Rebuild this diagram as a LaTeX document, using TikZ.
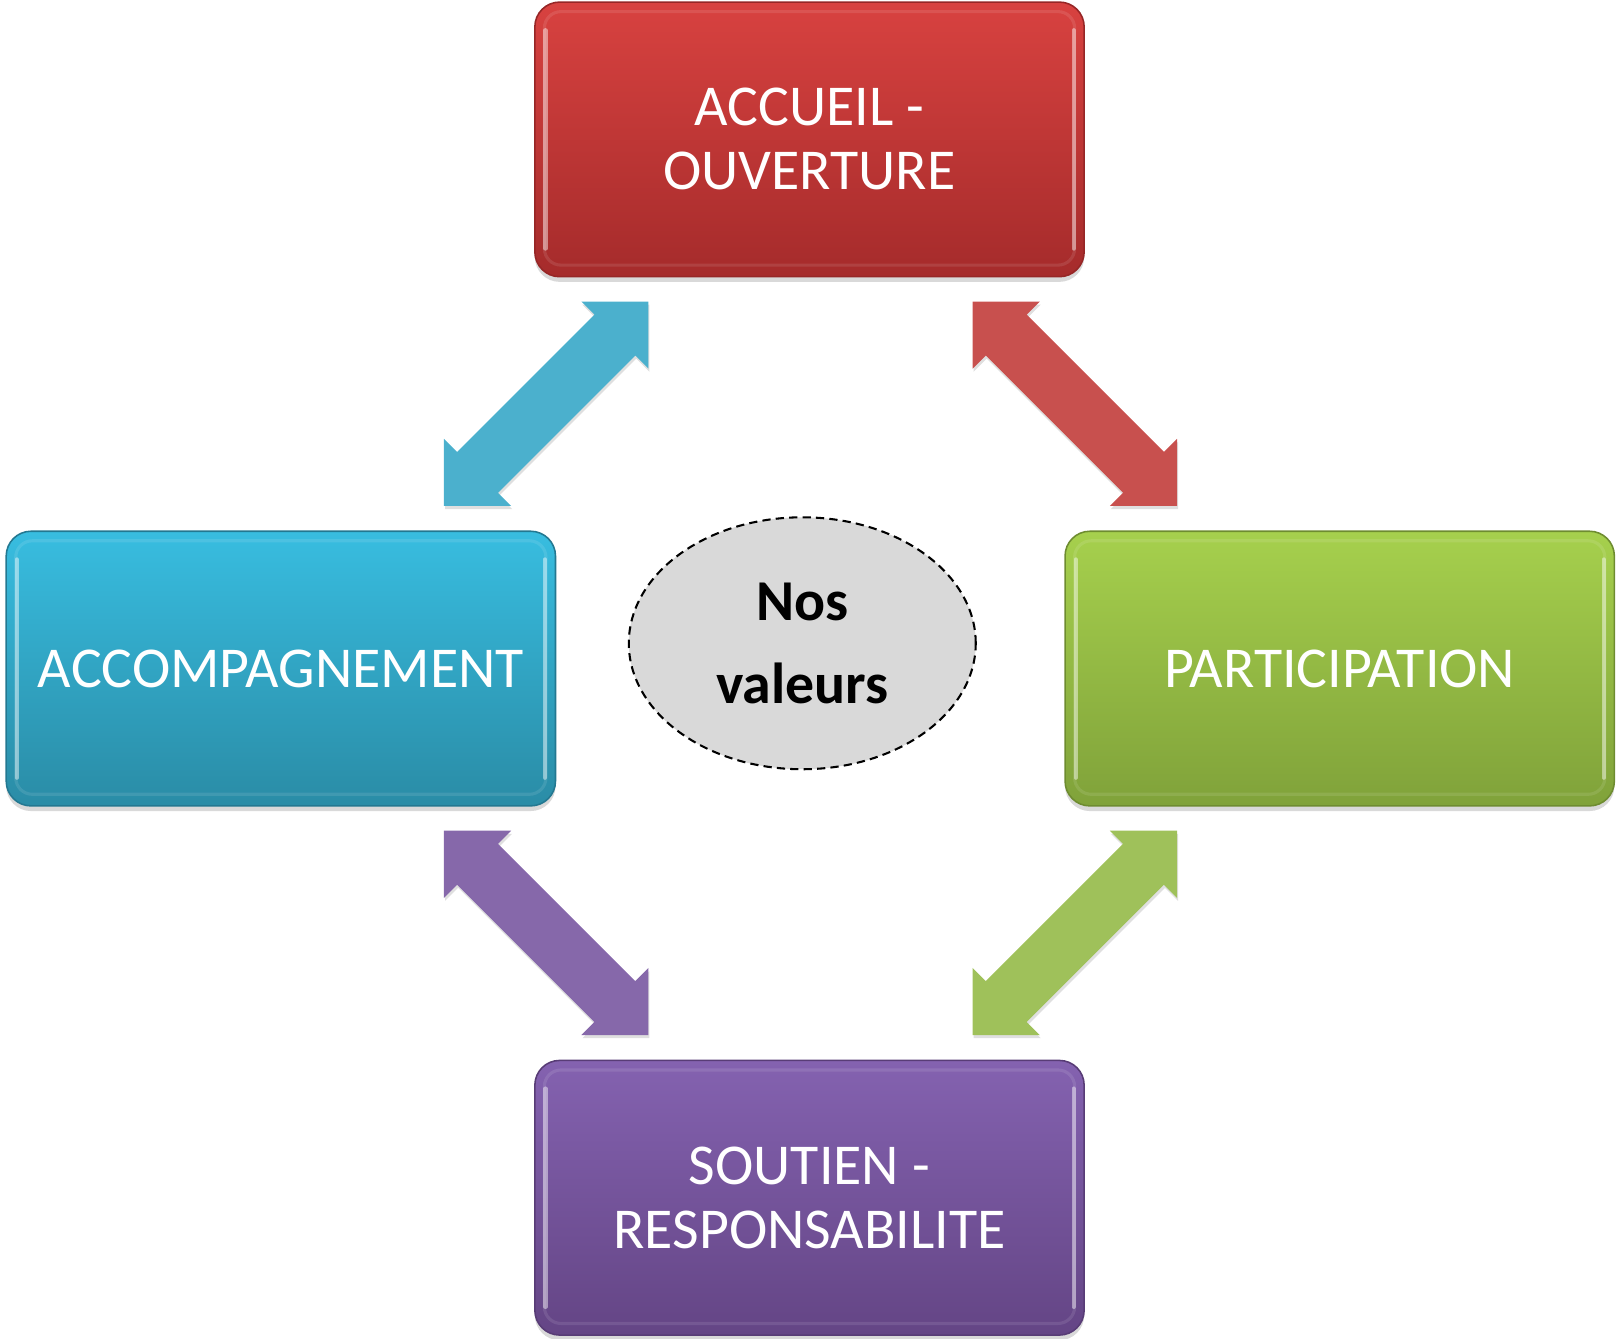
\documentclass[tikz,border=0pt]{standalone}
\usepackage{fontspec}
\setmainfont{Carlito}
\usetikzlibrary{shapes.geometric,shadows,calc}
\definecolor{redtop}{RGB}{216,66,64}
\definecolor{redbot}{RGB}{165,43,43}
\definecolor{redline}{RGB}{150,38,38}
\definecolor{bluetop}{RGB}{56,189,224}
\definecolor{bluebot}{RGB}{42,140,166}
\definecolor{blueline}{RGB}{35,120,145}
\definecolor{greentop}{RGB}{166,208,77}
\definecolor{greenbot}{RGB}{128,162,58}
\definecolor{greenline}{RGB}{110,140,48}
\definecolor{purptop}{RGB}{132,98,176}
\definecolor{purpbot}{RGB}{100,69,133}
\definecolor{purpline}{RGB}{88,60,118}
\definecolor{redarrow}{RGB}{200,80,78}
\definecolor{bluearrow}{RGB}{75,176,205}
\definecolor{purparrow}{RGB}{134,104,170}
\definecolor{greenarrow}{RGB}{159,193,90}
\definecolor{ellfill}{RGB}{217,217,217}
\tikzset{
  box/.style={rectangle, rounded corners=24pt, minimum width=532pt, minimum height=266pt,
    inner sep=0pt, text=white, align=center, font=\fontsize{56}{62}\selectfont,
    line width=1.5pt, drop shadow={opacity=.3, shadow xshift=0pt, shadow yshift=-5pt}},
  gloss/.style={white, opacity=.10, line width=3pt, rounded corners=16pt},
  sidegloss/.style={white, opacity=.45, line width=4pt, line cap=round},
  blockarrow/.style={drop shadow={opacity=.25, shadow xshift=1pt, shadow yshift=-3pt}},
  centre/.style={ellipse, minimum width=336pt, minimum height=244pt, fill=ellfill,
    draw=black, dash pattern=on 8pt off 5pt, line width=2pt, align=center, inner sep=0pt,
    font=\fontsize{56}{80}\selectfont\bfseries}
}
\newcommand\dblarrow[4]{%
  \begin{scope}[shift={($(#2)!.5!(#3)$)}, rotate=#4]
    \fill[#1, blockarrow] (140,0) -- (94,46) -- (94,28) -- (-94,28) -- (-94,46) -- (-140,0)
      -- (-94,-46) -- (-94,-28) -- (94,-28) -- (94,-46) -- cycle;
  \end{scope}}
\begin{document}
\begin{tikzpicture}[x=1pt,y=-1pt]
\useasboundingbox (0,0) rectangle (1568,1296);
% boxes
\node[box, top color=redtop, bottom color=redbot, draw=redline] (top) at (784,135) {ACCUEIL -\\OUVERTURE};
\node[box, top color=bluetop, bottom color=bluebot, draw=blueline] (left) at (272,647.5) {ACCOMPAGNEMENT};
\node[box, top color=greentop, bottom color=greenbot, draw=greenline] (right) at (1297.5,647.5) {PARTICIPATION};
\node[box, top color=purptop, bottom color=purpbot, draw=purpline] (bottom) at (784,1160) {SOUTIEN -\\RESPONSABILITE};
\foreach \b in {top,left,right,bottom}{
  \draw[gloss] ([shift={(10pt,-10pt)}]\b.north west) rectangle ([shift={(-10pt,12pt)}]\b.south east);
  \draw[sidegloss] ([shift={(11pt,-28pt)}]\b.north west) -- ([shift={(11pt,28pt)}]\b.south west);
  \draw[sidegloss] ([shift={(-11pt,-28pt)}]\b.north east) -- ([shift={(-11pt,28pt)}]\b.south east);
}
% centre
\node[centre] (mid) at (777,623) {Nos\\valeurs};
% arrows
\coordinate (b1) at (430,490); \coordinate (b2) at (628,292);
\coordinate (r1) at (942,292); \coordinate (r2) at (1140,490);
\coordinate (p1) at (430,805); \coordinate (p2) at (628,1002);
\coordinate (g1) at (942,1002); \coordinate (g2) at (1140,805);
\dblarrow{bluearrow}{b1}{b2}{45}
\dblarrow{redarrow}{r1}{r2}{-45}
\dblarrow{purparrow}{p1}{p2}{-45}
\dblarrow{greenarrow}{g1}{g2}{45}
\end{tikzpicture}
\end{document}
